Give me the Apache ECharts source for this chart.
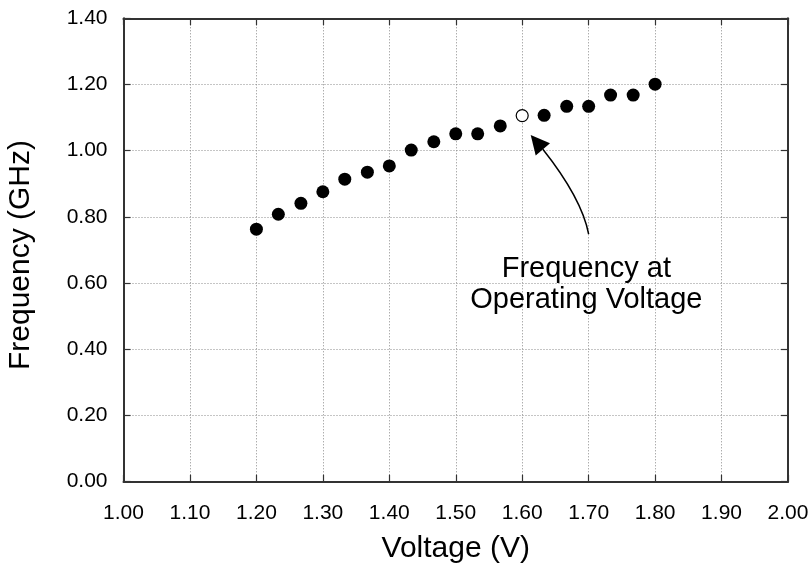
<!DOCTYPE html>
<html>
<head>
<meta charset="utf-8">
<script src="https://cdn.jsdelivr.net/npm/echarts@6/dist/echarts.min.js"></script>
<style>
  html, body { margin: 0; padding: 0; background: #fff; }
  #chart { width: 812px; height: 563px; }
</style>
</head>
<body>
<div id="chart"></div>
<script>
// Measured frequency vs. supply voltage
const voltage = [1.200, 1.233, 1.267, 1.300, 1.333, 1.367, 1.400, 1.433, 1.467, 1.500,
                 1.533, 1.567, 1.633, 1.667, 1.700, 1.733, 1.767, 1.800];
const frequency = [0.763, 0.808, 0.841, 0.876, 0.914, 0.935, 0.954, 1.002, 1.027, 1.051,
                   1.051, 1.075, 1.107, 1.134, 1.134, 1.168, 1.168, 1.201];

// Operating point (open marker)
const opVoltage = [1.600];
const opFrequency = [1.106];

// Annotation anchors (data coordinates)
const noteText = 'Frequency at\nOperating Voltage';
const notePos = [1.6965, 0.597];
const arrowTail = [1.700, 0.748];
const arrowBend = [1.6894, 0.8565];
const arrowBase = [1.6311, 1.0042];
const arrowTip = [1.6128, 1.0474];

const xTicks = { min: 1.0, max: 2.0, interval: 0.1 };
const yTicks = { min: 0.0, max: 1.4, interval: 0.2 };

const FONT = '"Liberation Sans", Arial, Helvetica, sans-serif';
const AXIS_COLOR = '#333';

const chart = echarts.init(document.getElementById('chart'), null, { renderer: 'canvas' });

const frame = {
  axisLine: { show: true, onZero: false, lineStyle: { color: AXIS_COLOR, width: 2 } },
  axisTick: { show: true, inside: true, length: 7, lineStyle: { color: AXIS_COLOR, width: 1.2 } }
};

chart.setOption({
  animation: false,
  backgroundColor: '#fff',
  grid: { left: 123.5, right: 24, top: 18.3, bottom: 81.3, containLabel: false, outerBoundsMode: 'none' },
  xAxis: [
    {
      type: 'value', position: 'bottom', ...xTicks,
      name: 'Voltage (V)', nameLocation: 'middle', nameGap: 52,
      nameTextStyle: { fontFamily: FONT, fontSize: 30, color: '#000' },
      ...frame,
      axisLabel: { margin: 21, fontFamily: FONT, fontSize: 21, color: '#000',
                   formatter: v => v.toFixed(2) },
      splitLine: { show: true, lineStyle: { color: '#8a8a8a', width: 1, type: [1, 2] } }
    },
    {
      type: 'value', position: 'top', ...xTicks, ...frame,
      axisLabel: { show: false }, splitLine: { show: false }
    }
  ],
  yAxis: [
    {
      type: 'value', position: 'left', ...yTicks,
      name: 'Frequency (GHz)', nameLocation: 'middle', nameGap: 88, nameRotate: 90,
      nameTextStyle: { fontFamily: FONT, fontSize: 30, color: '#000', padding: [0, 10, 0, 0] },
      ...frame,
      axisLabel: { margin: 16, fontFamily: FONT, fontSize: 21, color: '#000',
                   formatter: v => v.toFixed(2) },
      splitLine: { show: true, lineStyle: { color: '#8a8a8a', width: 1, type: [1, 2] } }
    },
    {
      type: 'value', position: 'right', ...yTicks, ...frame,
      axisLabel: { show: false }, splitLine: { show: false }
    }
  ],
  series: [
    {
      name: 'Measured',
      type: 'scatter',
      symbol: 'circle',
      symbolSize: 13,
      itemStyle: { color: '#000', opacity: 1 },
      data: voltage.map((v, i) => [v, frequency[i]]),
      z: 5
    },
    {
      name: 'Operating point',
      type: 'scatter',
      symbol: 'circle',
      symbolSize: 12,
      itemStyle: { color: '#fff', borderColor: '#000', borderWidth: 1.2, opacity: 1 },
      data: opVoltage.map((v, i) => [v, opFrequency[i]]),
      z: 6,
      markPoint: {
        silent: true,
        animation: false,
        symbol: 'circle',
        symbolSize: 0,
        data: [{ coord: notePos }],
        label: {
          show: true, position: 'inside', formatter: noteText,
          fontFamily: FONT, fontSize: 29, lineHeight: 31, color: '#000', align: 'center'
        }
      }
    }
  ]
});

// Curved pointer from the note to the operating point
function drawArrow() {
  const toPx = p => chart.convertToPixel({ xAxisIndex: 0, yAxisIndex: 0 }, p);
  const t = toPx(arrowTail), c = toPx(arrowBend), b = toPx(arrowBase), h = toPx(arrowTip);
  const dx = h[0] - b[0], dy = h[1] - b[1];
  const len = Math.hypot(dx, dy);
  const half = len * 0.5;
  const nx = -dy / len * half, ny = dx / len * half;
  chart.setOption({
    graphic: [
      {
        type: 'bezierCurve', z: 10, silent: true,
        shape: { x1: t[0], y1: t[1], cpx1: c[0], cpy1: c[1], x2: b[0], y2: b[1] },
        style: { stroke: '#000', lineWidth: 1.5, fill: null }
      },
      {
        type: 'polygon', z: 10, silent: true,
        shape: { points: [[h[0], h[1]], [b[0] + nx, b[1] + ny], [b[0] - nx, b[1] - ny]] },
        style: { fill: '#000', stroke: null }
      }
    ]
  });
}
drawArrow();
</script>
</body>
</html>
